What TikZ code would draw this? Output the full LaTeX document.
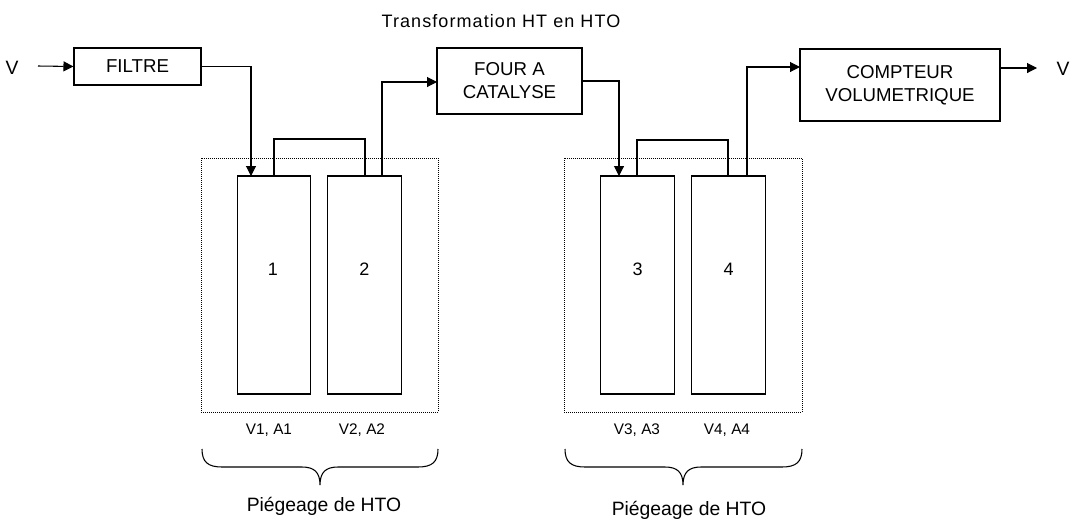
\documentclass[tikz,border=0pt]{standalone}
\usepackage{fontspec}
\setmainfont{Liberation Sans}
\usetikzlibrary{arrows.meta}
\begin{document}
\begin{tikzpicture}[x=0.75pt,y=-0.75pt,
  box/.style={draw,line width=0.8pt,inner sep=0pt,font=\fontsize{14}{17.25}\selectfont,align=center},
  col/.style={draw,line width=0.8pt,inner sep=0pt,minimum width=55pt,minimum height=163.5pt},
  group/.style={draw,densely dotted,line width=0.5pt,inner sep=0pt},
  txt/.style={inner sep=0pt,font=\fontsize{13.5}{16}\selectfont},
  big/.style={inner sep=0pt,font=\fontsize{14.5}{17}\selectfont},
  small/.style={inner sep=0pt,font=\fontsize{11.5}{14}\selectfont},
  conn/.style={line width=0.8pt},
  arr/.style={conn,-{Triangle[length=7.5pt,width=7.5pt]}},
  brc/.style={line width=0.8pt}]
\useasboundingbox (0,0) rectangle (1074,522);
% title
\node[inner sep=0pt,font=\fontsize{13.5}{16}\selectfont\addfontfeature{LetterSpace=6}] (title) at (501,21) {Transformation HT en HTO};
% boxes
\node[box,minimum width=95.25pt,minimum height=27.75pt] (filtre) at (137.5,66.5) {FILTRE};
\node[box,minimum width=108.75pt,minimum height=49.5pt] (four) at (509.5,81) {FOUR A\\CATALYSE};
\node[box,minimum width=150pt,minimum height=54pt] (cpt) at (900,85) {COMPTEUR\\VOLUMETRIQUE};
% groups
\node[group,minimum width=177.75pt,minimum height=190.5pt] (g1) at (319.5,285) {};
\node[group,minimum width=178.5pt,minimum height=190.5pt] (g2) at (683,285) {};
% columns
\node[col] (b1) at (274,285) {};
\node[col] (b2) at (364.5,285) {};
\node[col] (b3) at (637.5,285) {};
\node[col] (b4) at (728.5,285) {};
\node[txt] (n1) at (273,269) {1};
\node[txt] (n2) at (364.5,269) {2};
\node[txt] (n3) at (637.5,269) {3};
\node[txt] (n4) at (728.5,269) {4};
% V in/out
\node[big] (vin) at (12,68) {V};
\node[big] (vout) at (1063,69) {V};
\coordinate (vstart) at (38,66);
\coordinate (vend) at (1037,68);
% connection points
\coordinate (b1in) at (251,176);
\coordinate (b1out) at (274,176);
\coordinate (b2in) at (365,176);
\coordinate (b2out) at (382,176);
\coordinate (b3in) at (619,176);
\coordinate (b3out) at (637,176);
\coordinate (b4in) at (728,176);
\coordinate (b4out) at (747,176);
\coordinate (fourin) at (437,82);
\coordinate (cptin) at (800,67);
\coordinate (cptout) at (1000,68);
% connectors
\draw[arr] (vstart) -- (filtre.west);
\draw[arr] (filtre.east) -| (b1in);
\draw[conn] (b1out) -- ++(0,-37) -| (b2in);
\draw[arr] (b2out) |- (fourin);
\draw[arr] (four.east) -| (b3in);
\draw[conn] (b3out) -- ++(0,-36) -| (b4in);
\draw[arr] (b4out) |- (cptin);
\draw[arr] (cptout) -- (vend);
% labels under columns
\node[small] (l1) at (269,430) {V1, A1};
\node[small] (l2) at (362,430) {V2, A2};
\node[small] (l3) at (637,430) {V3, A3};
\node[small] (l4) at (727,430) {V4, A4};
% braces
\draw[brc] (202,449) .. controls (202,462) and (208,467) .. (222,467) -- (302,467)
  .. controls (314,467) and (320,472) .. (320,485)
  .. controls (320,472) and (326,467) .. (338,467) -- (418,467)
  .. controls (432,467) and (438,462) .. (438,449);
\draw[brc] (565,449) .. controls (565,462) and (571,467) .. (585,467) -- (665,467)
  .. controls (677,467) and (683,472) .. (683,485)
  .. controls (683,472) and (689,467) .. (701,467) -- (782,467)
  .. controls (796,467) and (802,462) .. (802,449);
\node[big] (p1) at (324,506) {Piégeage de HTO};
\node[big] (p2) at (689,510) {Piégeage de HTO};
\end{tikzpicture}
\end{document}
